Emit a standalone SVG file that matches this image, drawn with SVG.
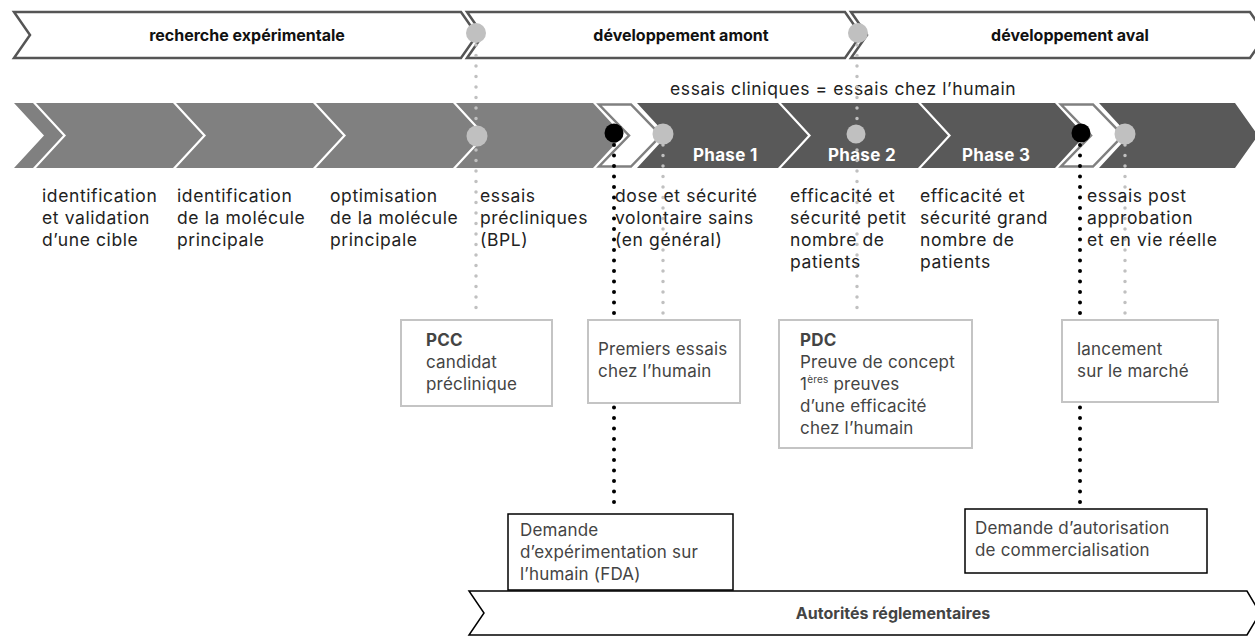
<svg xmlns="http://www.w3.org/2000/svg" width="1255" height="636" viewBox="0 0 1255 636">
<style>
text{font-family:Inter,"Open Sans","Liberation Sans",sans-serif;}
.hdr{font-size:16px;font-weight:bold;fill:#111;text-anchor:middle;}
.band{fill:#fff;stroke:#555;stroke-width:2.5;}
.lt{fill:#808080;}
.dk{fill:#595959;}
.wc{fill:#fff;stroke:#808080;stroke-width:2.5;}
.ph{font-size:17px;font-weight:bold;fill:#fff;letter-spacing:0.3px;}
.body{font-size:17.5px;fill:#222;letter-spacing:0.6px;}
.bx{font-size:17px;fill:#444;letter-spacing:0.2px;}
.b{font-weight:bold;}
.gbox{fill:#fff;stroke:#c4c4c4;stroke-width:2;}
.kbox{fill:#fff;stroke:#000;stroke-width:1.5;}
.gdot{fill:#c0c0c0;}
.kdot{fill:#000;}
.gline{stroke:#c0c0c0;stroke-width:3.5;stroke-linecap:round;stroke-dasharray:0 10.5;fill:none;}
.kline{stroke:#000;stroke-width:4;stroke-linecap:round;stroke-dasharray:0 10.5;fill:none;}
</style>

<g id="phases">
<g id="recherche"><path class="band" d="M14,12 L461,12 L477,35 L461,58 L14,58 L30,35 Z"/><text class="hdr" x="247" y="41">recherche expérimentale</text></g>
<g id="amont"><path class="band" d="M467,12 L845,12 L861,35 L845,58 L467,58 L483,35 Z"/><text class="hdr" x="681" y="41">développement amont</text></g>
<g id="aval"><path class="band" d="M851,12 L1250,12 L1266,35 L1250,58 L851,58 L867,35 Z"/><text class="hdr" x="1070" y="41">développement aval</text></g>
</g>

<text id="essais-cliniques" class="body" x="670" y="95">essais cliniques = essais chez l’humain</text>

<g id="arrow-row">
<path class="lt" d="M14,103 L33,103 L63,135.5 L33,168 L14,168 L44,135.5 Z"/>
<path class="lt" d="M36,103 L173,103 L203,135.5 L173,168 L36,168 L66,135.5 Z"/>
<path class="lt" d="M176,103 L313,103 L343,135.5 L313,168 L176,168 L206,135.5 Z"/>
<path class="lt" d="M316,103 L453,103 L483,135.5 L453,168 L316,168 L346,135.5 Z"/>
<path class="lt" d="M456,103 L593,103 L623,135.5 L593,168 L456,168 L486,135.5 Z"/>
<path class="wc" d="M599,104.5 L631,104.5 L661,135.5 L631,166.5 L599,166.5 L629,135.5 Z"/>
<g id="phase1"><path class="dk" d="M637,103 L778,103 L808,135.5 L778,168 L637,168 L667,135.5 Z"/><text class="ph" x="693" y="161">Phase 1</text></g>
<g id="phase2"><path class="dk" d="M781,103 L918,103 L948,135.5 L918,168 L781,168 L811,135.5 Z"/><text class="ph" x="828" y="161">Phase 2</text></g>
<g id="phase3"><path class="dk" d="M921,103 L1055,103 L1085,135.5 L1055,168 L921,168 L951,135.5 Z"/><text class="ph" x="962" y="161">Phase 3</text></g>
<path class="wc" d="M1061,104.5 L1093,104.5 L1123,135.5 L1093,166.5 L1061,166.5 L1091,135.5 Z"/>
<path class="dk" d="M1099,103 L1235,103 L1258,135.5 L1235,168 L1099,168 L1129,135.5 Z"/>
</g>

<g id="connectors">
<line class="gline" x1="476" y1="45" x2="476" y2="314"/>
<line class="gline" x1="857" y1="45" x2="857" y2="314"/>
<line class="gline" x1="663" y1="145" x2="663" y2="314"/>
<line class="gline" x1="1125" y1="145" x2="1125" y2="314"/>
<line class="kline" x1="614" y1="145" x2="614" y2="510"/>
<line class="kline" x1="1080" y1="145" x2="1080" y2="505"/>
<circle class="gdot" cx="476" cy="33" r="10"/>
<circle class="gdot" cx="858" cy="33" r="10"/>
<circle class="gdot" cx="477" cy="136" r="10.5"/>
<circle class="kdot" cx="614" cy="133" r="9.5"/>
<circle class="gdot" cx="663" cy="134" r="10.5"/>
<circle class="gdot" cx="856" cy="134" r="9.5"/>
<circle class="kdot" cx="1081" cy="133" r="9.5"/>
<circle class="gdot" cx="1125" cy="134" r="10.5"/>
</g>

<g id="step-labels">
<text class="body" x="42" y="202">identification<tspan x="42" dy="22">et validation</tspan><tspan x="42" dy="22">d’une cible</tspan></text>
<text class="body" x="177" y="202">identification<tspan x="177" dy="22">de la molécule</tspan><tspan x="177" dy="22">principale</tspan></text>
<text class="body" x="330" y="202">optimisation<tspan x="330" dy="22">de la molécule</tspan><tspan x="330" dy="22">principale</tspan></text>
<text class="body" x="480" y="202">essais<tspan x="480" dy="22">précliniques</tspan><tspan x="480" dy="22">(BPL)</tspan></text>
<text class="body" x="615" y="202">dose et sécurité<tspan x="615" dy="22">volontaire sains</tspan><tspan x="615" dy="22">(en général)</tspan></text>
<text class="body" x="790" y="202">efficacité et<tspan x="790" dy="22">sécurité petit</tspan><tspan x="790" dy="22">nombre de</tspan><tspan x="790" dy="22">patients</tspan></text>
<text class="body" x="920" y="202">efficacité et<tspan x="920" dy="22">sécurité grand</tspan><tspan x="920" dy="22">nombre de</tspan><tspan x="920" dy="22">patients</tspan></text>
<text class="body" x="1087" y="202">essais post<tspan x="1087" dy="22">approbation</tspan><tspan x="1087" dy="22">et en vie réelle</tspan></text>
</g>

<g id="pcc"><rect class="gbox" x="401" y="320" width="151" height="86"/><text class="bx" x="426" y="346"><tspan class="b">PCC</tspan><tspan x="426" dy="22">candidat</tspan><tspan x="426" dy="22">préclinique</tspan></text></g>
<g id="premiers-essais"><rect class="gbox" x="588" y="320" width="152" height="83"/><text class="bx" x="598" y="355">Premiers essais<tspan x="598" dy="22">chez l’humain</tspan></text></g>
<g id="pdc"><rect class="gbox" x="779" y="320" width="193" height="128"/><text class="bx" x="800" y="346"><tspan class="b">PDC</tspan><tspan x="800" dy="22">Preuve de concept</tspan><tspan x="800" dy="22">1</tspan><tspan font-size="10" dy="-7">ères</tspan><tspan dy="7"> preuves</tspan><tspan x="800" dy="22">d’une efficacité</tspan><tspan x="800" dy="22">chez l’humain</tspan></text></g>
<g id="lancement"><rect class="gbox" x="1062" y="320" width="156" height="82"/><text class="bx" x="1077" y="355">lancement<tspan x="1077" dy="22">sur le marché</tspan></text></g>

<g id="autorites"><path fill="#fff" stroke="#000" stroke-width="1.5" d="M469,591 L1247,591 L1260,613 L1247,635 L469,635 L484,613 Z"/><text class="hdr" x="893" y="619" style="fill:#444">Autorités réglementaires</text></g>

<g id="demande-fda"><rect class="kbox" x="508" y="514" width="225" height="76"/><text class="bx" x="520" y="536">Demande<tspan x="520" dy="22">d’expérimentation sur</tspan><tspan x="520" dy="22">l’humain (FDA)</tspan></text></g>
<g id="demande-amm"><rect class="kbox" x="965" y="509" width="242" height="64"/><text class="bx" x="975" y="534">Demande d’autorisation<tspan x="975" dy="22">de commercialisation</tspan></text></g>
</svg>
